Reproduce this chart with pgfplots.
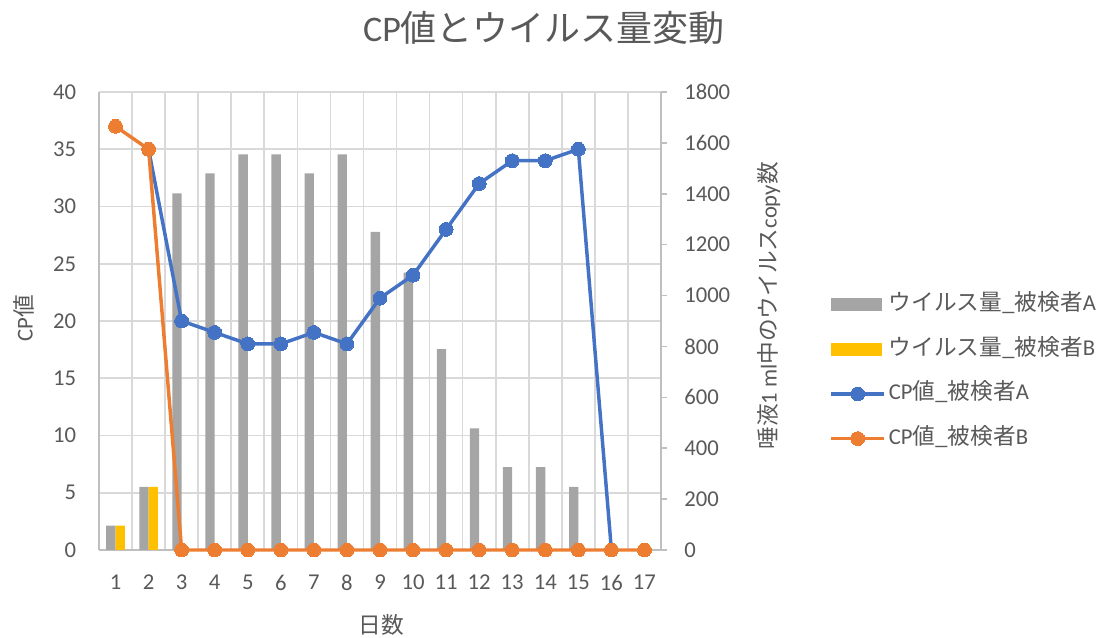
\documentclass[border=0pt]{standalone}
\usepackage{pgfplots}
\pgfplotsset{compat=1.18}
\usepackage{fontspec}
\setmainfont{Carlito}
\newfontfamily\cjk{Noto Sans CJK JP}
\definecolor{txt}{HTML}{595959}
\definecolor{gridc}{HTML}{D9D9D9}
\definecolor{axc}{HTML}{BFBFBF}
\definecolor{barA}{HTML}{A5A5A5}
\definecolor{barB}{HTML}{FFC000}
\definecolor{lineA}{HTML}{4472C4}
\definecolor{lineB}{HTML}{ED7D31}
\pgfplotsset{
 lineleg/.style={legend image code/.code={\draw[mark repeat=2,mark phase=2,##1] plot coordinates {(0pt,0pt) (20pt,0pt) (40pt,0pt)};}},
 barlegA/.style={legend image code/.code={\fill[barA] (0pt,-4.5pt) rectangle (38pt,4.5pt);}},
 barlegB/.style={legend image code/.code={\fill[barB] (0pt,-4.5pt) rectangle (38pt,4.5pt);}},
 base/.style={at={(74.25pt,66pt)}, anchor=south west, scale only axis,
   width=421.5pt, height=343.5pt, xmin=0.5, xmax=17.5, ymin=0,
   /pgf/number format/assume math mode=true,
   /pgf/number format/1000 sep={},
   tick label style={text=txt, font=\fontsize{17}{20}\selectfont}},
}
\begin{document}
\begin{tikzpicture}
\useasboundingbox (0,0) rectangle (833.25pt,478.5pt);
% grid and left/bottom axes
\begin{axis}[base, ymax=40, ytick={0,5,...,40}, xtick={1,...,17},
  minor xtick={1.5,2.5,...,16.5}, ymajorgrids, xminorgrids,
  major grid style={gridc, line width=1.2pt}, minor grid style={gridc, line width=1.2pt},
  axis x line*=bottom, axis y line*=left, axis line style={axc, line width=1.2pt, -},
  major tick length=0pt, minor tick length=0pt,
  yticklabel style={inner sep=0pt, xshift=-17pt},
  xticklabel style={inner sep=0pt, yshift=-18.75pt}]
\end{axis}
% bars on right axis
\begin{axis}[base, ymax=1800, ytick={0,200,...,1800}, axis y line*=right, axis x line=none,
  axis line style={axc, line width=1.2pt, -}, tick style={axc, line width=1.2pt},
  major tick length=4.5pt, tick align=outside,
  yticklabel style={inner sep=0pt, anchor=west, xshift=12.75pt},
  ybar=0pt, bar width=7pt]
\addplot[fill=barA, draw=none] coordinates {(1,96) (2,248) (3,1402) (4,1480) (5,1555) (6,1555) (7,1480) (8,1555) (9,1250) (10,1090) (11,789) (12,478) (13,326) (14,326) (15,248) (16,0) (17,0)};
\addplot[fill=barB, draw=none] coordinates {(1,96) (2,248) (3,0) (4,0) (5,0) (6,0) (7,0) (8,0) (9,0) (10,0) (11,0) (12,0) (13,0) (14,0) (15,0) (16,0) (17,0)};
\end{axis}
% lines on left axis
\begin{axis}[base, ymax=40, hide axis, clip=false,
  legend style={at={(1.299,0.564)}, anchor=north west, draw=none, fill=none,
    font=\fontsize{17}{20}\selectfont, text=txt, row sep=14.5pt,
    inner sep=0pt, nodes={inner sep=2pt, text height=12pt, text depth=3pt}},
  legend cell align=left]
\addlegendimage{barlegA}
\addlegendentry{{\cjk ウイルス量\_被検者}A}
\addlegendimage{barlegB}
\addlegendentry{{\cjk ウイルス量\_被検者}B}
\addplot[lineA, line width=2.6pt, mark=*, mark size=5.2pt, mark options={fill=lineA, draw=lineA, line width=0pt}, lineleg]
  coordinates {(2,35) (3,20) (4,19) (5,18) (6,18) (7,19) (8,18) (9,22) (10,24) (11,28) (12,32) (13,34) (14,34) (15,35) (16,0)};
\addlegendentry{CP{\cjk 値\_被検者}A}
\addplot[lineB, line width=2.6pt, mark=*, mark size=5.2pt, mark options={fill=lineB, draw=lineB, line width=0pt}, lineleg]
  coordinates {(1,37) (2,35) (3,0) (4,0) (5,0) (6,0) (7,0) (8,0) (9,0) (10,0) (11,0) (12,0) (13,0) (14,0) (15,0) (16,0) (17,0)};
\addlegendentry{CP{\cjk 値\_被検者}B}
\end{axis}
% titles and axis labels
\node[text=txt, font=\fontsize{27}{32}\selectfont] at (408pt,457.5pt) {CP{\cjk 値とウイルス量変動}};
\node[text=txt, font=\fontsize{17}{20}\selectfont] at (285.75pt,9.75pt) {\cjk 日数};
\node[text=txt, font=\fontsize{17}{20}\selectfont, rotate=90] at (18pt,240pt) {CP{\cjk 値}};
\node[text=txt, font=\fontsize{17}{20}\selectfont, rotate=90] at (576.75pt,249pt) {{\cjk 唾液}1 ml{\cjk 中のウイルス}copy{\cjk 数}};
\end{tikzpicture}
\end{document}
